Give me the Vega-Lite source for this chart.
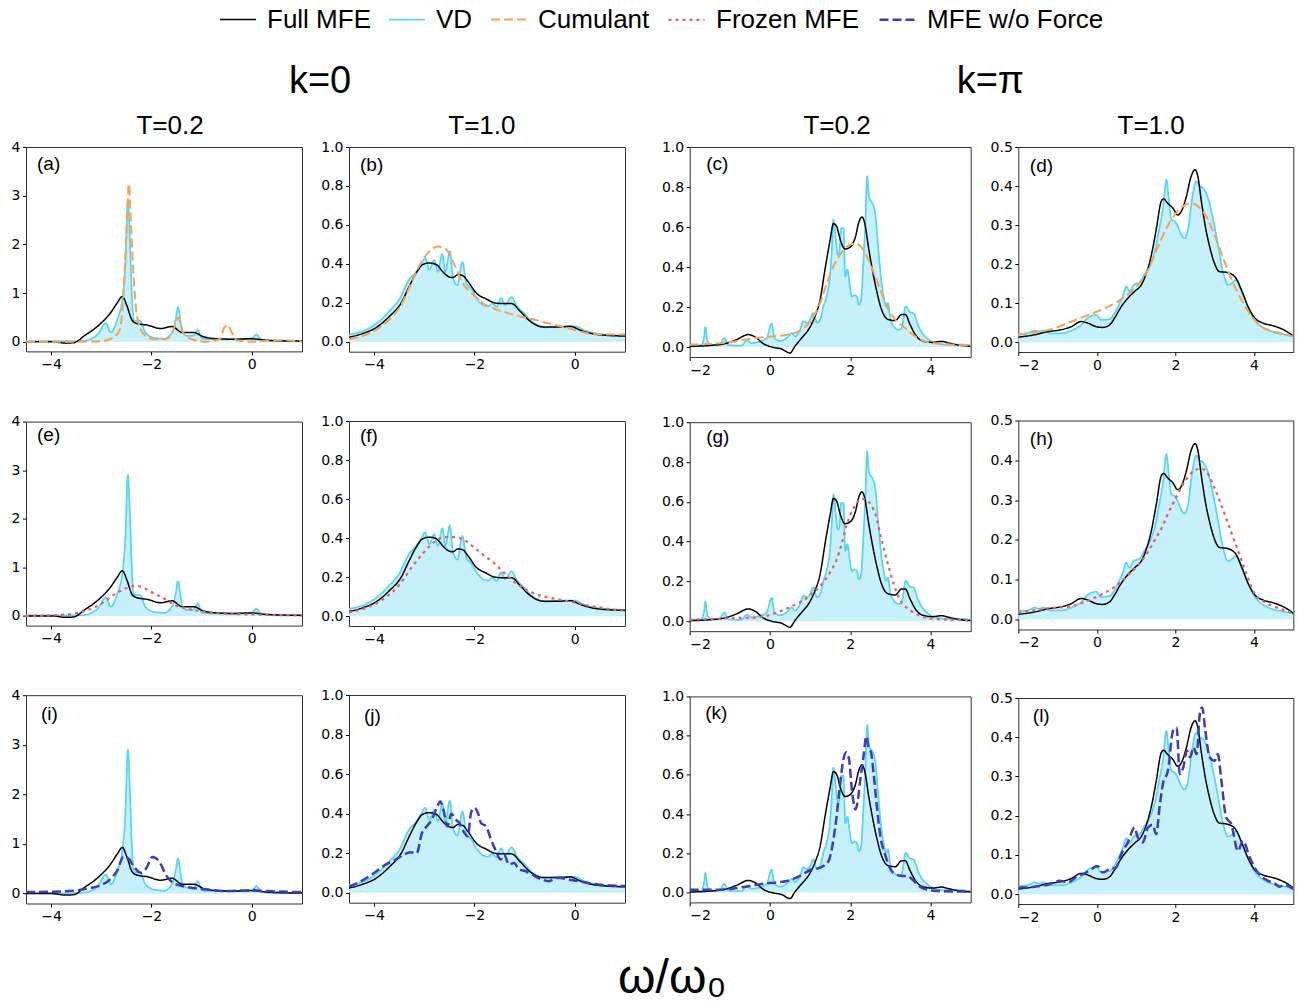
{
"$schema":"https://vega.github.io/schema/vega-lite/v6.json",
"padding":{"left":10,"top":0,"right":2,"bottom":0},
"datasets":{
"c1":[
{"m":"VD","x":-4.5,"y":0.01},{"m":"VD","x":-3.6,"y":0.01},{"m":"VD","x":-3.34,"y":0.02},{"m":"VD","x":-3.07,"y":0.15},{"m":"VD","x":-2.91,"y":0.38},{"m":"VD","x":-2.81,"y":0.19},{"m":"VD","x":-2.68,"y":0.46},{"m":"VD","x":-2.58,"y":0.87},{"m":"VD","x":-2.52,"y":1.6},{"m":"VD","x":-2.47,"y":2.9},{"m":"VD","x":-2.42,"y":1.8},{"m":"VD","x":-2.39,"y":0.94},{"m":"VD","x":-2.35,"y":0.43},{"m":"VD","x":-2.23,"y":0.43},{"m":"VD","x":-2.12,"y":0.19},{"m":"VD","x":-1.95,"y":0.08},{"m":"VD","x":-1.75,"y":0.06},{"m":"VD","x":-1.59,"y":0.19},{"m":"VD","x":-1.52,"y":0.45},{"m":"VD","x":-1.47,"y":0.71},{"m":"VD","x":-1.42,"y":0.4},{"m":"VD","x":-1.38,"y":0.19},{"m":"VD","x":-1.29,"y":0.12},{"m":"VD","x":-1.16,"y":0.12},{"m":"VD","x":-1.08,"y":0.25},{"m":"VD","x":-0.99,"y":0.06},{"m":"VD","x":-0.69,"y":0.05},{"m":"VD","x":-0.36,"y":0.05},{"m":"VD","x":-0.1,"y":0.05},{"m":"VD","x":0.02,"y":0.08},{"m":"VD","x":0.09,"y":0.15},{"m":"VD","x":0.16,"y":0.07},{"m":"VD","x":0.23,"y":0.03},{"m":"VD","x":0.5,"y":0.01},{"m":"VD","x":1.0,"y":0.01},
{"m":"Full MFE","x":-4.5,"y":0.0},{"m":"Full MFE","x":-4.0,"y":0.0},{"m":"Full MFE","x":-3.7,"y":-0.03},{"m":"Full MFE","x":-3.54,"y":-0.02},{"m":"Full MFE","x":-3.34,"y":0.12},{"m":"Full MFE","x":-3.07,"y":0.32},{"m":"Full MFE","x":-2.81,"y":0.6},{"m":"Full MFE","x":-2.68,"y":0.8},{"m":"Full MFE","x":-2.58,"y":0.93},{"m":"Full MFE","x":-2.49,"y":0.74},{"m":"Full MFE","x":-2.38,"y":0.43},{"m":"Full MFE","x":-2.28,"y":0.37},{"m":"Full MFE","x":-2.08,"y":0.34},{"m":"Full MFE","x":-1.82,"y":0.27},{"m":"Full MFE","x":-1.59,"y":0.31},{"m":"Full MFE","x":-1.39,"y":0.19},{"m":"Full MFE","x":-1.16,"y":0.19},{"m":"Full MFE","x":-0.96,"y":0.1},{"m":"Full MFE","x":-0.69,"y":0.06},{"m":"Full MFE","x":-0.36,"y":0.05},{"m":"Full MFE","x":-0.03,"y":0.06},{"m":"Full MFE","x":0.3,"y":0.03},{"m":"Full MFE","x":1.0,"y":0.01},
{"m":"Cumulant","x":-4.5,"y":0},{"m":"Cumulant","x":-3.34,"y":0},{"m":"Cumulant","x":-3.0,"y":0.01},{"m":"Cumulant","x":-2.81,"y":0.06},{"m":"Cumulant","x":-2.64,"y":0.22},{"m":"Cumulant","x":-2.55,"y":1.08},{"m":"Cumulant","x":-2.49,"y":2.45},{"m":"Cumulant","x":-2.45,"y":3.24},{"m":"Cumulant","x":-2.41,"y":2.45},{"m":"Cumulant","x":-2.36,"y":1.42},{"m":"Cumulant","x":-2.29,"y":0.53},{"m":"Cumulant","x":-2.15,"y":0.15},{"m":"Cumulant","x":-1.95,"y":0.05},{"m":"Cumulant","x":-1.69,"y":0.06},{"m":"Cumulant","x":-1.57,"y":0.22},{"m":"Cumulant","x":-1.47,"y":0.49},{"m":"Cumulant","x":-1.37,"y":0.19},{"m":"Cumulant","x":-1.19,"y":0.05},{"m":"Cumulant","x":-0.89,"y":0.0},{"m":"Cumulant","x":-0.63,"y":0.06},{"m":"Cumulant","x":-0.55,"y":0.29},{"m":"Cumulant","x":-0.48,"y":0.34},{"m":"Cumulant","x":-0.4,"y":0.19},{"m":"Cumulant","x":-0.3,"y":0.03},{"m":"Cumulant","x":0,"y":0.0},{"m":"Cumulant","x":0.56,"y":0.03},{"m":"Cumulant","x":1.0,"y":0.0},
{"m":"Frozen MFE","x":-4.5,"y":0.0},{"m":"Frozen MFE","x":-3.67,"y":0.03},{"m":"Frozen MFE","x":-3.27,"y":0.12},{"m":"Frozen MFE","x":-3.0,"y":0.25},{"m":"Frozen MFE","x":-2.74,"y":0.44},{"m":"Frozen MFE","x":-2.48,"y":0.58},{"m":"Frozen MFE","x":-2.31,"y":0.62},{"m":"Frozen MFE","x":-2.12,"y":0.56},{"m":"Frozen MFE","x":-1.95,"y":0.46},{"m":"Frozen MFE","x":-1.75,"y":0.36},{"m":"Frozen MFE","x":-1.55,"y":0.23},{"m":"Frozen MFE","x":-1.29,"y":0.15},{"m":"Frozen MFE","x":-0.89,"y":0.08},{"m":"Frozen MFE","x":-0.36,"y":0.04},{"m":"Frozen MFE","x":0.03,"y":0.03},{"m":"Frozen MFE","x":1.0,"y":0.01},
{"m":"MFE w/o Force","x":-4.5,"y":0.03},{"m":"MFE w/o Force","x":-3.67,"y":0.05},{"m":"MFE w/o Force","x":-3.28,"y":0.1},{"m":"MFE w/o Force","x":-3.0,"y":0.17},{"m":"MFE w/o Force","x":-2.81,"y":0.3},{"m":"MFE w/o Force","x":-2.68,"y":0.47},{"m":"MFE w/o Force","x":-2.56,"y":0.74},{"m":"MFE w/o Force","x":-2.45,"y":0.7},{"m":"MFE w/o Force","x":-2.35,"y":0.54},{"m":"MFE w/o Force","x":-2.21,"y":0.42},{"m":"MFE w/o Force","x":-2.11,"y":0.5},{"m":"MFE w/o Force","x":-1.98,"y":0.74},{"m":"MFE w/o Force","x":-1.84,"y":0.64},{"m":"MFE w/o Force","x":-1.71,"y":0.37},{"m":"MFE w/o Force","x":-1.54,"y":0.2},{"m":"MFE w/o Force","x":-1.28,"y":0.13},{"m":"MFE w/o Force","x":-0.87,"y":0.08},{"m":"MFE w/o Force","x":-0.47,"y":0.05},{"m":"MFE w/o Force","x":0,"y":0.07},{"m":"MFE w/o Force","x":0.33,"y":0.05},{"m":"MFE w/o Force","x":1.0,"y":0.03}
],
"c2":[
{"m":"VD","x":-4.5,"y":0.038},{"m":"VD","x":-4.3,"y":0.05},{"m":"VD","x":-4.1,"y":0.07},{"m":"VD","x":-3.9,"y":0.106},{"m":"VD","x":-3.7,"y":0.157},{"m":"VD","x":-3.5,"y":0.217},{"m":"VD","x":-3.3,"y":0.32},{"m":"VD","x":-3.16,"y":0.36},{"m":"VD","x":-3.06,"y":0.4},{"m":"VD","x":-2.98,"y":0.43},{"m":"VD","x":-2.9,"y":0.37},{"m":"VD","x":-2.8,"y":0.42},{"m":"VD","x":-2.73,"y":0.36},{"m":"VD","x":-2.64,"y":0.45},{"m":"VD","x":-2.58,"y":0.36},{"m":"VD","x":-2.49,"y":0.465},{"m":"VD","x":-2.43,"y":0.33},{"m":"VD","x":-2.34,"y":0.29},{"m":"VD","x":-2.24,"y":0.41},{"m":"VD","x":-2.16,"y":0.3},{"m":"VD","x":-2.06,"y":0.27},{"m":"VD","x":-1.96,"y":0.225},{"m":"VD","x":-1.83,"y":0.19},{"m":"VD","x":-1.73,"y":0.183},{"m":"VD","x":-1.64,"y":0.197},{"m":"VD","x":-1.56,"y":0.18},{"m":"VD","x":-1.47,"y":0.225},{"m":"VD","x":-1.39,"y":0.19},{"m":"VD","x":-1.26,"y":0.23},{"m":"VD","x":-1.16,"y":0.186},{"m":"VD","x":-1.02,"y":0.149},{"m":"VD","x":-0.82,"y":0.097},{"m":"VD","x":-0.56,"y":0.075},{"m":"VD","x":-0.29,"y":0.08},{"m":"VD","x":0.01,"y":0.08},{"m":"VD","x":0.18,"y":0.06},{"m":"VD","x":0.45,"y":0.043},{"m":"VD","x":1.0,"y":0.032},
{"m":"Full MFE","x":-4.5,"y":0.024},{"m":"Full MFE","x":-4.23,"y":0.043},{"m":"Full MFE","x":-3.97,"y":0.072},{"m":"Full MFE","x":-3.7,"y":0.13},{"m":"Full MFE","x":-3.46,"y":0.2},{"m":"Full MFE","x":-3.3,"y":0.285},{"m":"Full MFE","x":-3.16,"y":0.354},{"m":"Full MFE","x":-3.03,"y":0.397},{"m":"Full MFE","x":-2.9,"y":0.405},{"m":"Full MFE","x":-2.76,"y":0.397},{"m":"Full MFE","x":-2.63,"y":0.36},{"m":"Full MFE","x":-2.53,"y":0.337},{"m":"Full MFE","x":-2.43,"y":0.33},{"m":"Full MFE","x":-2.33,"y":0.345},{"m":"Full MFE","x":-2.23,"y":0.34},{"m":"Full MFE","x":-2.13,"y":0.31},{"m":"Full MFE","x":-1.96,"y":0.25},{"m":"Full MFE","x":-1.76,"y":0.22},{"m":"Full MFE","x":-1.59,"y":0.2},{"m":"Full MFE","x":-1.42,"y":0.197},{"m":"Full MFE","x":-1.26,"y":0.197},{"m":"Full MFE","x":-1.09,"y":0.157},{"m":"Full MFE","x":-0.89,"y":0.106},{"m":"Full MFE","x":-0.62,"y":0.077},{"m":"Full MFE","x":-0.29,"y":0.077},{"m":"Full MFE","x":-0.09,"y":0.08},{"m":"Full MFE","x":0.11,"y":0.06},{"m":"Full MFE","x":0.45,"y":0.038},{"m":"Full MFE","x":1.0,"y":0.03},
{"m":"Cumulant","x":-4.5,"y":0.015},{"m":"Cumulant","x":-4.23,"y":0.03},{"m":"Cumulant","x":-3.97,"y":0.06},{"m":"Cumulant","x":-3.7,"y":0.115},{"m":"Cumulant","x":-3.46,"y":0.19},{"m":"Cumulant","x":-3.26,"y":0.3},{"m":"Cumulant","x":-3.1,"y":0.39},{"m":"Cumulant","x":-2.93,"y":0.456},{"m":"Cumulant","x":-2.73,"y":0.49},{"m":"Cumulant","x":-2.56,"y":0.473},{"m":"Cumulant","x":-2.39,"y":0.39},{"m":"Cumulant","x":-2.23,"y":0.3},{"m":"Cumulant","x":-2.03,"y":0.243},{"m":"Cumulant","x":-1.83,"y":0.2},{"m":"Cumulant","x":-1.56,"y":0.166},{"m":"Cumulant","x":-1.22,"y":0.14},{"m":"Cumulant","x":-0.82,"y":0.115},{"m":"Cumulant","x":-0.42,"y":0.089},{"m":"Cumulant","x":-0.02,"y":0.063},{"m":"Cumulant","x":0.31,"y":0.043},{"m":"Cumulant","x":0.72,"y":0.038},{"m":"Cumulant","x":1.0,"y":0.038},
{"m":"Frozen MFE","x":-4.5,"y":0.02},{"m":"Frozen MFE","x":-4.25,"y":0.035},{"m":"Frozen MFE","x":-4.0,"y":0.06},{"m":"Frozen MFE","x":-3.75,"y":0.1},{"m":"Frozen MFE","x":-3.5,"y":0.16},{"m":"Frozen MFE","x":-3.25,"y":0.25},{"m":"Frozen MFE","x":-3.0,"y":0.33},{"m":"Frozen MFE","x":-2.8,"y":0.38},{"m":"Frozen MFE","x":-2.6,"y":0.405},{"m":"Frozen MFE","x":-2.4,"y":0.405},{"m":"Frozen MFE","x":-2.2,"y":0.39},{"m":"Frozen MFE","x":-2.0,"y":0.35},{"m":"Frozen MFE","x":-1.8,"y":0.31},{"m":"Frozen MFE","x":-1.6,"y":0.27},{"m":"Frozen MFE","x":-1.4,"y":0.22},{"m":"Frozen MFE","x":-1.2,"y":0.175},{"m":"Frozen MFE","x":-1.0,"y":0.14},{"m":"Frozen MFE","x":-0.8,"y":0.115},{"m":"Frozen MFE","x":-0.6,"y":0.1},{"m":"Frozen MFE","x":-0.4,"y":0.09},{"m":"Frozen MFE","x":-0.2,"y":0.08},{"m":"Frozen MFE","x":0,"y":0.07},{"m":"Frozen MFE","x":0.25,"y":0.055},{"m":"Frozen MFE","x":0.5,"y":0.045},{"m":"Frozen MFE","x":0.75,"y":0.035},{"m":"Frozen MFE","x":1.0,"y":0.03},
{"m":"MFE w/o Force","x":-4.5,"y":0.03},{"m":"MFE w/o Force","x":-4.26,"y":0.059},{"m":"MFE w/o Force","x":-4.0,"y":0.1},{"m":"MFE w/o Force","x":-3.77,"y":0.143},{"m":"MFE w/o Force","x":-3.57,"y":0.168},{"m":"MFE w/o Force","x":-3.41,"y":0.193},{"m":"MFE w/o Force","x":-3.28,"y":0.205},{"m":"MFE w/o Force","x":-3.15,"y":0.2},{"m":"MFE w/o Force","x":-3.05,"y":0.3},{"m":"MFE w/o Force","x":-2.95,"y":0.336},{"m":"MFE w/o Force","x":-2.85,"y":0.37},{"m":"MFE w/o Force","x":-2.75,"y":0.43},{"m":"MFE w/o Force","x":-2.68,"y":0.462},{"m":"MFE w/o Force","x":-2.61,"y":0.41},{"m":"MFE w/o Force","x":-2.54,"y":0.336},{"m":"MFE w/o Force","x":-2.46,"y":0.4},{"m":"MFE w/o Force","x":-2.37,"y":0.37},{"m":"MFE w/o Force","x":-2.3,"y":0.353},{"m":"MFE w/o Force","x":-2.22,"y":0.311},{"m":"MFE w/o Force","x":-2.13,"y":0.286},{"m":"MFE w/o Force","x":-2.07,"y":0.403},{"m":"MFE w/o Force","x":-2.0,"y":0.43},{"m":"MFE w/o Force","x":-1.93,"y":0.403},{"m":"MFE w/o Force","x":-1.87,"y":0.353},{"m":"MFE w/o Force","x":-1.77,"y":0.336},{"m":"MFE w/o Force","x":-1.67,"y":0.27},{"m":"MFE w/o Force","x":-1.57,"y":0.21},{"m":"MFE w/o Force","x":-1.48,"y":0.168},{"m":"MFE w/o Force","x":-1.41,"y":0.193},{"m":"MFE w/o Force","x":-1.31,"y":0.143},{"m":"MFE w/o Force","x":-1.21,"y":0.151},{"m":"MFE w/o Force","x":-1.11,"y":0.118},{"m":"MFE w/o Force","x":-0.98,"y":0.109},{"m":"MFE w/o Force","x":-0.85,"y":0.092},{"m":"MFE w/o Force","x":-0.69,"y":0.071},{"m":"MFE w/o Force","x":-0.52,"y":0.059},{"m":"MFE w/o Force","x":-0.33,"y":0.076},{"m":"MFE w/o Force","x":-0.13,"y":0.067},{"m":"MFE w/o Force","x":0.07,"y":0.059},{"m":"MFE w/o Force","x":0.26,"y":0.05},{"m":"MFE w/o Force","x":0.46,"y":0.042},{"m":"MFE w/o Force","x":0.72,"y":0.037},{"m":"MFE w/o Force","x":1.0,"y":0.034}
],
"c3":[
{"m":"VD","x":-2.0,"y":0.007},{"m":"VD","x":-1.71,"y":0.01},{"m":"VD","x":-1.64,"y":0.053},{"m":"VD","x":-1.61,"y":0.1},{"m":"VD","x":-1.56,"y":0.03},{"m":"VD","x":-1.46,"y":0.01},{"m":"VD","x":-1.25,"y":0.012},{"m":"VD","x":-1.14,"y":0.045},{"m":"VD","x":-1.04,"y":0.01},{"m":"VD","x":-0.71,"y":0.007},{"m":"VD","x":-0.58,"y":0.033},{"m":"VD","x":-0.46,"y":0.02},{"m":"VD","x":-0.21,"y":0.03},{"m":"VD","x":-0.08,"y":0.045},{"m":"VD","x":0.04,"y":0.117},{"m":"VD","x":0.11,"y":0.045},{"m":"VD","x":0.25,"y":0.03},{"m":"VD","x":0.46,"y":0.053},{"m":"VD","x":0.54,"y":0.07},{"m":"VD","x":0.62,"y":0.053},{"m":"VD","x":0.75,"y":0.087},{"m":"VD","x":0.83,"y":0.128},{"m":"VD","x":0.92,"y":0.12},{"m":"VD","x":1.0,"y":0.137},{"m":"VD","x":1.08,"y":0.17},{"m":"VD","x":1.17,"y":0.12},{"m":"VD","x":1.25,"y":0.137},{"m":"VD","x":1.33,"y":0.203},{"m":"VD","x":1.41,"y":0.253},{"m":"VD","x":1.5,"y":0.37},{"m":"VD","x":1.54,"y":0.487},{"m":"VD","x":1.58,"y":0.637},{"m":"VD","x":1.64,"y":0.537},{"m":"VD","x":1.69,"y":0.46},{"m":"VD","x":1.725,"y":0.47},{"m":"VD","x":1.775,"y":0.595},{"m":"VD","x":1.83,"y":0.595},{"m":"VD","x":1.875,"y":0.353},{"m":"VD","x":1.93,"y":0.387},{"m":"VD","x":1.98,"y":0.32},{"m":"VD","x":2.04,"y":0.253},{"m":"VD","x":2.11,"y":0.26},{"m":"VD","x":2.17,"y":0.25},{"m":"VD","x":2.21,"y":0.21},{"m":"VD","x":2.27,"y":0.237},{"m":"VD","x":2.32,"y":0.4},{"m":"VD","x":2.375,"y":0.62},{"m":"VD","x":2.42,"y":0.853},{"m":"VD","x":2.47,"y":0.745},{"m":"VD","x":2.55,"y":0.72},{"m":"VD","x":2.62,"y":0.67},{"m":"VD","x":2.7,"y":0.487},{"m":"VD","x":2.77,"y":0.337},{"m":"VD","x":2.83,"y":0.253},{"m":"VD","x":2.89,"y":0.203},{"m":"VD","x":2.94,"y":0.22},{"m":"VD","x":2.99,"y":0.153},{"m":"VD","x":3.08,"y":0.103},{"m":"VD","x":3.2,"y":0.087},{"m":"VD","x":3.28,"y":0.095},{"m":"VD","x":3.38,"y":0.203},{"m":"VD","x":3.49,"y":0.173},{"m":"VD","x":3.57,"y":0.17},{"m":"VD","x":3.7,"y":0.103},{"m":"VD","x":3.82,"y":0.062},{"m":"VD","x":3.95,"y":0.037},{"m":"VD","x":4.11,"y":0.02},{"m":"VD","x":4.45,"y":0.012},{"m":"VD","x":4.78,"y":0.012},{"m":"VD","x":5.0,"y":0.007},
{"m":"Full MFE","x":-2.0,"y":0.003},{"m":"Full MFE","x":-1.54,"y":0.007},{"m":"Full MFE","x":-1.12,"y":0.017},{"m":"Full MFE","x":-0.83,"y":0.037},{"m":"Full MFE","x":-0.54,"y":0.062},{"m":"Full MFE","x":-0.37,"y":0.05},{"m":"Full MFE","x":-0.17,"y":0.017},{"m":"Full MFE","x":0.04,"y":0.0},{"m":"Full MFE","x":0.29,"y":-0.01},{"m":"Full MFE","x":0.5,"y":-0.03},{"m":"Full MFE","x":0.62,"y":0.003},{"m":"Full MFE","x":0.79,"y":0.045},{"m":"Full MFE","x":0.96,"y":0.087},{"m":"Full MFE","x":1.12,"y":0.153},{"m":"Full MFE","x":1.25,"y":0.237},{"m":"Full MFE","x":1.37,"y":0.387},{"m":"Full MFE","x":1.5,"y":0.537},{"m":"Full MFE","x":1.58,"y":0.617},{"m":"Full MFE","x":1.66,"y":0.603},{"m":"Full MFE","x":1.75,"y":0.537},{"m":"Full MFE","x":1.87,"y":0.49},{"m":"Full MFE","x":2.0,"y":0.5},{"m":"Full MFE","x":2.12,"y":0.545},{"m":"Full MFE","x":2.22,"y":0.628},{"m":"Full MFE","x":2.29,"y":0.65},{"m":"Full MFE","x":2.37,"y":0.61},{"m":"Full MFE","x":2.45,"y":0.503},{"m":"Full MFE","x":2.55,"y":0.387},{"m":"Full MFE","x":2.66,"y":0.278},{"m":"Full MFE","x":2.78,"y":0.187},{"m":"Full MFE","x":2.95,"y":0.137},{"m":"Full MFE","x":3.12,"y":0.132},{"m":"Full MFE","x":3.28,"y":0.162},{"m":"Full MFE","x":3.37,"y":0.162},{"m":"Full MFE","x":3.49,"y":0.112},{"m":"Full MFE","x":3.62,"y":0.062},{"m":"Full MFE","x":3.78,"y":0.032},{"m":"Full MFE","x":4.03,"y":0.023},{"m":"Full MFE","x":4.28,"y":0.028},{"m":"Full MFE","x":4.45,"y":0.02},{"m":"Full MFE","x":4.78,"y":0.007},{"m":"Full MFE","x":5.0,"y":0.003},
{"m":"Cumulant","x":-2.0,"y":0.012},{"m":"Cumulant","x":-1.37,"y":0.017},{"m":"Cumulant","x":-0.87,"y":0.028},{"m":"Cumulant","x":-0.37,"y":0.045},{"m":"Cumulant","x":0.04,"y":0.053},{"m":"Cumulant","x":0.46,"y":0.062},{"m":"Cumulant","x":0.79,"y":0.087},{"m":"Cumulant","x":1.04,"y":0.137},{"m":"Cumulant","x":1.25,"y":0.22},{"m":"Cumulant","x":1.45,"y":0.337},{"m":"Cumulant","x":1.62,"y":0.42},{"m":"Cumulant","x":1.79,"y":0.473},{"m":"Cumulant","x":1.95,"y":0.507},{"m":"Cumulant","x":2.12,"y":0.517},{"m":"Cumulant","x":2.29,"y":0.495},{"m":"Cumulant","x":2.45,"y":0.437},{"m":"Cumulant","x":2.62,"y":0.353},{"m":"Cumulant","x":2.78,"y":0.27},{"m":"Cumulant","x":2.95,"y":0.187},{"m":"Cumulant","x":3.12,"y":0.137},{"m":"Cumulant","x":3.37,"y":0.095},{"m":"Cumulant","x":3.62,"y":0.053},{"m":"Cumulant","x":3.87,"y":0.028},{"m":"Cumulant","x":4.2,"y":0.017},{"m":"Cumulant","x":5.0,"y":0.007},
{"m":"Frozen MFE","x":-2.0,"y":0.008},{"m":"Frozen MFE","x":-1.37,"y":0.012},{"m":"Frozen MFE","x":-0.87,"y":0.017},{"m":"Frozen MFE","x":-0.46,"y":0.017},{"m":"Frozen MFE","x":-0.13,"y":0.025},{"m":"Frozen MFE","x":0.11,"y":0.039},{"m":"Frozen MFE","x":0.32,"y":0.055},{"m":"Frozen MFE","x":0.53,"y":0.075},{"m":"Frozen MFE","x":0.74,"y":0.095},{"m":"Frozen MFE","x":0.95,"y":0.122},{"m":"Frozen MFE","x":1.16,"y":0.159},{"m":"Frozen MFE","x":1.32,"y":0.193},{"m":"Frozen MFE","x":1.49,"y":0.243},{"m":"Frozen MFE","x":1.66,"y":0.31},{"m":"Frozen MFE","x":1.78,"y":0.385},{"m":"Frozen MFE","x":1.9,"y":0.477},{"m":"Frozen MFE","x":2.02,"y":0.544},{"m":"Frozen MFE","x":2.15,"y":0.591},{"m":"Frozen MFE","x":2.27,"y":0.615},{"m":"Frozen MFE","x":2.39,"y":0.611},{"m":"Frozen MFE","x":2.51,"y":0.586},{"m":"Frozen MFE","x":2.64,"y":0.528},{"m":"Frozen MFE","x":2.76,"y":0.427},{"m":"Frozen MFE","x":2.93,"y":0.293},{"m":"Frozen MFE","x":3.1,"y":0.176},{"m":"Frozen MFE","x":3.26,"y":0.1},{"m":"Frozen MFE","x":3.47,"y":0.059},{"m":"Frozen MFE","x":3.76,"y":0.025},{"m":"Frozen MFE","x":4.09,"y":0.012},{"m":"Frozen MFE","x":4.83,"y":0.005},{"m":"Frozen MFE","x":5.0,"y":0.004},
{"m":"MFE w/o Force","x":-2.0,"y":0.014},{"m":"MFE w/o Force","x":-1.42,"y":0.014},{"m":"MFE w/o Force","x":-0.92,"y":0.02},{"m":"MFE w/o Force","x":-0.5,"y":0.034},{"m":"MFE w/o Force","x":-0.08,"y":0.047},{"m":"MFE w/o Force","x":0.42,"y":0.059},{"m":"MFE w/o Force","x":0.75,"y":0.085},{"m":"MFE w/o Force","x":1.0,"y":0.115},{"m":"MFE w/o Force","x":1.25,"y":0.127},{"m":"MFE w/o Force","x":1.46,"y":0.161},{"m":"MFE w/o Force","x":1.58,"y":0.27},{"m":"MFE w/o Force","x":1.67,"y":0.407},{"m":"MFE w/o Force","x":1.75,"y":0.56},{"m":"MFE w/o Force","x":1.83,"y":0.68},{"m":"MFE w/o Force","x":1.9,"y":0.715},{"m":"MFE w/o Force","x":1.97,"y":0.68},{"m":"MFE w/o Force","x":2.04,"y":0.525},{"m":"MFE w/o Force","x":2.13,"y":0.424},{"m":"MFE w/o Force","x":2.18,"y":0.458},{"m":"MFE w/o Force","x":2.25,"y":0.576},{"m":"MFE w/o Force","x":2.33,"y":0.695},{"m":"MFE w/o Force","x":2.4,"y":0.797},{"m":"MFE w/o Force","x":2.46,"y":0.737},{"m":"MFE w/o Force","x":2.52,"y":0.712},{"m":"MFE w/o Force","x":2.58,"y":0.61},{"m":"MFE w/o Force","x":2.67,"y":0.424},{"m":"MFE w/o Force","x":2.75,"y":0.288},{"m":"MFE w/o Force","x":2.88,"y":0.186},{"m":"MFE w/o Force","x":3.0,"y":0.119},{"m":"MFE w/o Force","x":3.13,"y":0.093},{"m":"MFE w/o Force","x":3.29,"y":0.085},{"m":"MFE w/o Force","x":3.42,"y":0.085},{"m":"MFE w/o Force","x":3.54,"y":0.068},{"m":"MFE w/o Force","x":3.71,"y":0.034},{"m":"MFE w/o Force","x":3.92,"y":0.014},{"m":"MFE w/o Force","x":4.17,"y":0.008},{"m":"MFE w/o Force","x":5.0,"y":0.005}
],
"c4":[
{"m":"VD","x":-2.0,"y":0.021},{"m":"VD","x":-1.76,"y":0.023},{"m":"VD","x":-1.59,"y":0.03},{"m":"VD","x":-1.46,"y":0.027},{"m":"VD","x":-1.38,"y":0.03},{"m":"VD","x":-1.17,"y":0.023},{"m":"VD","x":-0.91,"y":0.023},{"m":"VD","x":-0.65,"y":0.03},{"m":"VD","x":-0.4,"y":0.044},{"m":"VD","x":-0.23,"y":0.062},{"m":"VD","x":-0.02,"y":0.07},{"m":"VD","x":0.11,"y":0.057},{"m":"VD","x":0.32,"y":0.059},{"m":"VD","x":0.45,"y":0.074},{"m":"VD","x":0.58,"y":0.1},{"m":"VD","x":0.66,"y":0.117},{"m":"VD","x":0.75,"y":0.143},{"m":"VD","x":0.83,"y":0.13},{"m":"VD","x":0.94,"y":0.147},{"m":"VD","x":1.09,"y":0.153},{"m":"VD","x":1.21,"y":0.173},{"m":"VD","x":1.34,"y":0.194},{"m":"VD","x":1.47,"y":0.232},{"m":"VD","x":1.6,"y":0.297},{"m":"VD","x":1.68,"y":0.34},{"m":"VD","x":1.77,"y":0.416},{"m":"VD","x":1.83,"y":0.365},{"m":"VD","x":1.9,"y":0.314},{"m":"VD","x":1.98,"y":0.31},{"m":"VD","x":2.06,"y":0.297},{"m":"VD","x":2.15,"y":0.275},{"m":"VD","x":2.23,"y":0.267},{"m":"VD","x":2.32,"y":0.288},{"m":"VD","x":2.42,"y":0.365},{"m":"VD","x":2.53,"y":0.412},{"m":"VD","x":2.62,"y":0.4},{"m":"VD","x":2.7,"y":0.395},{"m":"VD","x":2.83,"y":0.369},{"m":"VD","x":2.96,"y":0.314},{"m":"VD","x":3.09,"y":0.245},{"m":"VD","x":3.21,"y":0.181},{"m":"VD","x":3.34,"y":0.147},{"m":"VD","x":3.43,"y":0.151},{"m":"VD","x":3.55,"y":0.16},{"m":"VD","x":3.68,"y":0.13},{"m":"VD","x":3.85,"y":0.091},{"m":"VD","x":4.02,"y":0.057},{"m":"VD","x":4.19,"y":0.04},{"m":"VD","x":4.45,"y":0.027},{"m":"VD","x":4.7,"y":0.021},{"m":"VD","x":5.0,"y":0.015},
{"m":"Full MFE","x":-2.0,"y":0.013},{"m":"Full MFE","x":-1.59,"y":0.019},{"m":"Full MFE","x":-1.25,"y":0.027},{"m":"Full MFE","x":-0.91,"y":0.032},{"m":"Full MFE","x":-0.65,"y":0.04},{"m":"Full MFE","x":-0.4,"y":0.053},{"m":"Full MFE","x":-0.23,"y":0.049},{"m":"Full MFE","x":-0.02,"y":0.04},{"m":"Full MFE","x":0.15,"y":0.038},{"m":"Full MFE","x":0.32,"y":0.044},{"m":"Full MFE","x":0.45,"y":0.062},{"m":"Full MFE","x":0.62,"y":0.091},{"m":"Full MFE","x":0.79,"y":0.113},{"m":"Full MFE","x":0.96,"y":0.13},{"m":"Full MFE","x":1.13,"y":0.147},{"m":"Full MFE","x":1.26,"y":0.177},{"m":"Full MFE","x":1.38,"y":0.22},{"m":"Full MFE","x":1.51,"y":0.288},{"m":"Full MFE","x":1.64,"y":0.361},{"m":"Full MFE","x":1.7,"y":0.367},{"m":"Full MFE","x":1.8,"y":0.356},{"m":"Full MFE","x":1.93,"y":0.344},{"m":"Full MFE","x":2.06,"y":0.326},{"m":"Full MFE","x":2.15,"y":0.335},{"m":"Full MFE","x":2.28,"y":0.374},{"m":"Full MFE","x":2.4,"y":0.425},{"m":"Full MFE","x":2.5,"y":0.442},{"m":"Full MFE","x":2.57,"y":0.425},{"m":"Full MFE","x":2.66,"y":0.361},{"m":"Full MFE","x":2.76,"y":0.297},{"m":"Full MFE","x":2.87,"y":0.245},{"m":"Full MFE","x":2.99,"y":0.203},{"m":"Full MFE","x":3.12,"y":0.181},{"m":"Full MFE","x":3.3,"y":0.179},{"m":"Full MFE","x":3.51,"y":0.168},{"m":"Full MFE","x":3.68,"y":0.134},{"m":"Full MFE","x":3.85,"y":0.091},{"m":"Full MFE","x":4.02,"y":0.062},{"m":"Full MFE","x":4.23,"y":0.049},{"m":"Full MFE","x":4.49,"y":0.042},{"m":"Full MFE","x":4.79,"y":0.03},{"m":"Full MFE","x":5.0,"y":0.016},
{"m":"Cumulant","x":-2.0,"y":0.019},{"m":"Cumulant","x":-1.59,"y":0.025},{"m":"Cumulant","x":-1.17,"y":0.033},{"m":"Cumulant","x":-0.74,"y":0.049},{"m":"Cumulant","x":-0.31,"y":0.066},{"m":"Cumulant","x":0.11,"y":0.083},{"m":"Cumulant","x":0.53,"y":0.104},{"m":"Cumulant","x":0.96,"y":0.138},{"m":"Cumulant","x":1.3,"y":0.185},{"m":"Cumulant","x":1.56,"y":0.245},{"m":"Cumulant","x":1.77,"y":0.292},{"m":"Cumulant","x":1.98,"y":0.326},{"m":"Cumulant","x":2.19,"y":0.348},{"m":"Cumulant","x":2.4,"y":0.356},{"m":"Cumulant","x":2.62,"y":0.344},{"m":"Cumulant","x":2.83,"y":0.314},{"m":"Cumulant","x":3.04,"y":0.262},{"m":"Cumulant","x":3.26,"y":0.203},{"m":"Cumulant","x":3.47,"y":0.151},{"m":"Cumulant","x":3.68,"y":0.109},{"m":"Cumulant","x":3.94,"y":0.066},{"m":"Cumulant","x":4.19,"y":0.04},{"m":"Cumulant","x":4.53,"y":0.027},{"m":"Cumulant","x":5.0,"y":0.015},
{"m":"Frozen MFE","x":-2.0,"y":0.019},{"m":"Frozen MFE","x":-1.59,"y":0.023},{"m":"Frozen MFE","x":-1.17,"y":0.029},{"m":"Frozen MFE","x":-0.74,"y":0.032},{"m":"Frozen MFE","x":-0.31,"y":0.044},{"m":"Frozen MFE","x":0.07,"y":0.061},{"m":"Frozen MFE","x":0.45,"y":0.082},{"m":"Frozen MFE","x":0.79,"y":0.111},{"m":"Frozen MFE","x":1.04,"y":0.136},{"m":"Frozen MFE","x":1.3,"y":0.17},{"m":"Frozen MFE","x":1.47,"y":0.199},{"m":"Frozen MFE","x":1.64,"y":0.228},{"m":"Frozen MFE","x":1.81,"y":0.266},{"m":"Frozen MFE","x":1.98,"y":0.299},{"m":"Frozen MFE","x":2.15,"y":0.333},{"m":"Frozen MFE","x":2.32,"y":0.358},{"m":"Frozen MFE","x":2.49,"y":0.375},{"m":"Frozen MFE","x":2.66,"y":0.379},{"m":"Frozen MFE","x":2.83,"y":0.366},{"m":"Frozen MFE","x":3.0,"y":0.329},{"m":"Frozen MFE","x":3.17,"y":0.287},{"m":"Frozen MFE","x":3.34,"y":0.241},{"m":"Frozen MFE","x":3.51,"y":0.195},{"m":"Frozen MFE","x":3.68,"y":0.149},{"m":"Frozen MFE","x":3.85,"y":0.103},{"m":"Frozen MFE","x":4.02,"y":0.065},{"m":"Frozen MFE","x":4.27,"y":0.044},{"m":"Frozen MFE","x":4.53,"y":0.032},{"m":"Frozen MFE","x":4.78,"y":0.023},{"m":"Frozen MFE","x":5.0,"y":0.015},
{"m":"MFE w/o Force","x":-2.0,"y":0.017},{"m":"MFE w/o Force","x":-1.59,"y":0.019},{"m":"MFE w/o Force","x":-1.25,"y":0.024},{"m":"MFE w/o Force","x":-0.95,"y":0.034},{"m":"MFE w/o Force","x":-0.74,"y":0.03},{"m":"MFE w/o Force","x":-0.48,"y":0.047},{"m":"MFE w/o Force","x":-0.31,"y":0.053},{"m":"MFE w/o Force","x":-0.14,"y":0.064},{"m":"MFE w/o Force","x":0.01,"y":0.072},{"m":"MFE w/o Force","x":0.15,"y":0.055},{"m":"MFE w/o Force","x":0.32,"y":0.064},{"m":"MFE w/o Force","x":0.49,"y":0.068},{"m":"MFE w/o Force","x":0.62,"y":0.102},{"m":"MFE w/o Force","x":0.79,"y":0.132},{"m":"MFE w/o Force","x":0.96,"y":0.17},{"m":"MFE w/o Force","x":1.04,"y":0.145},{"m":"MFE w/o Force","x":1.17,"y":0.132},{"m":"MFE w/o Force","x":1.3,"y":0.17},{"m":"MFE w/o Force","x":1.42,"y":0.177},{"m":"MFE w/o Force","x":1.51,"y":0.153},{"m":"MFE w/o Force","x":1.6,"y":0.225},{"m":"MFE w/o Force","x":1.68,"y":0.281},{"m":"MFE w/o Force","x":1.81,"y":0.315},{"m":"MFE w/o Force","x":1.94,"y":0.417},{"m":"MFE w/o Force","x":2.03,"y":0.425},{"m":"MFE w/o Force","x":2.11,"y":0.306},{"m":"MFE w/o Force","x":2.2,"y":0.323},{"m":"MFE w/o Force","x":2.29,"y":0.366},{"m":"MFE w/o Force","x":2.37,"y":0.349},{"m":"MFE w/o Force","x":2.46,"y":0.374},{"m":"MFE w/o Force","x":2.54,"y":0.357},{"m":"MFE w/o Force","x":2.62,"y":0.459},{"m":"MFE w/o Force","x":2.68,"y":0.476},{"m":"MFE w/o Force","x":2.76,"y":0.417},{"m":"MFE w/o Force","x":2.87,"y":0.349},{"m":"MFE w/o Force","x":3.0,"y":0.34},{"m":"MFE w/o Force","x":3.08,"y":0.357},{"m":"MFE w/o Force","x":3.17,"y":0.289},{"m":"MFE w/o Force","x":3.29,"y":0.196},{"m":"MFE w/o Force","x":3.42,"y":0.179},{"m":"MFE w/o Force","x":3.59,"y":0.11},{"m":"MFE w/o Force","x":3.72,"y":0.136},{"m":"MFE w/o Force","x":3.89,"y":0.094},{"m":"MFE w/o Force","x":4.1,"y":0.055},{"m":"MFE w/o Force","x":4.36,"y":0.034},{"m":"MFE w/o Force","x":4.53,"y":0.027},{"m":"MFE w/o Force","x":4.65,"y":0.019},{"m":"MFE w/o Force","x":4.78,"y":0.024},{"m":"MFE w/o Force","x":5.0,"y":0.013}
]
},
"title":{"text":"ω/ω₀","orient":"bottom","fontSize":48,"offset":30,"anchor":"middle","dx":20},
"spacing":34.7,
"hconcat":[
{"title":{"text":"k=0","fontSize":38,"offset":12,"anchor":"middle","dx":2},"spacing":17,"hconcat":[
{"title":{"text":"T=0.2","fontSize":26,"offset":1,"anchor":"middle","dx":13.5},"spacing":69.6,"bounds":"flush","vconcat":[
{"title":{"text":"(a)","anchor":"start","frame":"group","fontSize":19,"offset":-25,"dx":11,"dy":18,"baseline":"middle"},"width":276,"height":204.4,"data":{"name":"c1"},
"encoding":{"x":{"field":"x","type":"quantitative","scale":{"domain":[-4.5,1],"nice":false,"zero":false},"axis":{"values":[-4,-2,0],"format":"d","title":null}},"y":{"field":"y","type":"quantitative","scale":{"domain":[-0.2,4],"nice":false,"zero":false},"axis":{"values":[0,1,2,3,4],"format":"d","title":null}}},
"layer":[
{"transform":[{"filter":"datum.m==='VD'"}],"mark":{"type":"area","color":"#c6f1fa","clip":true,"interpolate":"monotone"},"encoding":{"y2":{"datum":0}}},
{"transform":[{"filter":"datum.m!=='Frozen MFE'&&datum.m!=='MFE w/o Force'"}],"mark":{"type":"line","clip":true,"interpolate":"monotone"},"encoding":{"color":{"field":"m","type":"nominal","scale":{"domain":["Full MFE","VD","Cumulant","Frozen MFE","MFE w/o Force"],"range":["#000000","#55d6f8","#ffa04a","#f25c5c","#3b3bc6"]},"legend":{"title":null,"orient":"none","legendX":193,"legendY":-147,"direction":"horizontal"}},"strokeDash":{"field":"m","type":"nominal","scale":{"domain":["Full MFE","VD","Cumulant","Frozen MFE","MFE w/o Force"],"range":[[1,0],[1,0],[9,4],[3,4],[9,4]]},"legend":{"title":null,"orient":"none","legendX":193,"legendY":-147,"direction":"horizontal"}},"strokeWidth":{"field":"m","type":"ordinal","scale":{"domain":["Full MFE","VD","Cumulant","Frozen MFE","MFE w/o Force"],"range":[1.5,2.5,3.2,3,3.2]},"legend":null}}}
]},
{"title":{"text":"(e)","anchor":"start","frame":"group","fontSize":19,"offset":-25,"dx":11,"dy":14.5,"baseline":"middle"},"width":276,"height":204,"data":{"name":"c1"},
"encoding":{"x":{"field":"x","type":"quantitative","scale":{"domain":[-4.5,1],"nice":false,"zero":false},"axis":{"values":[-4,-2,0],"format":"d","title":null}},"y":{"field":"y","type":"quantitative","scale":{"domain":[-0.2,4],"nice":false,"zero":false},"axis":{"values":[0,1,2,3,4],"format":"d","title":null}}},
"layer":[
{"transform":[{"filter":"datum.m==='VD'"}],"mark":{"type":"area","color":"#c6f1fa","clip":true,"interpolate":"monotone"},"encoding":{"y2":{"datum":0}}},
{"transform":[{"filter":"datum.m!=='Cumulant'&&datum.m!=='MFE w/o Force'"}],"mark":{"type":"line","clip":true,"interpolate":"monotone"},"encoding":{"color":{"field":"m","type":"nominal","scale":{"domain":["Full MFE","VD","Cumulant","Frozen MFE","MFE w/o Force"],"range":["#000000","#55d6f8","#ffa04a","#f25c5c","#3b3bc6"]},"legend":{"title":null,"orient":"none","legendX":193,"legendY":-147,"direction":"horizontal"}},"strokeDash":{"field":"m","type":"nominal","scale":{"domain":["Full MFE","VD","Cumulant","Frozen MFE","MFE w/o Force"],"range":[[1,0],[1,0],[9,4],[3,4],[9,4]]},"legend":{"title":null,"orient":"none","legendX":193,"legendY":-147,"direction":"horizontal"}},"strokeWidth":{"field":"m","type":"ordinal","scale":{"domain":["Full MFE","VD","Cumulant","Frozen MFE","MFE w/o Force"],"range":[1.5,2.5,3.2,3,3.2]},"legend":null}}}
]},
{"title":{"text":"(i)","anchor":"start","frame":"group","fontSize":19,"offset":-25,"dx":15,"dy":20,"baseline":"middle"},"width":276,"height":208.3,"data":{"name":"c1"},
"encoding":{"x":{"field":"x","type":"quantitative","scale":{"domain":[-4.5,1],"nice":false,"zero":false},"axis":{"values":[-4,-2,0],"format":"d","title":null}},"y":{"field":"y","type":"quantitative","scale":{"domain":[-0.2,4],"nice":false,"zero":false},"axis":{"values":[0,1,2,3,4],"format":"d","title":null}}},
"layer":[
{"transform":[{"filter":"datum.m==='VD'"}],"mark":{"type":"area","color":"#c6f1fa","clip":true,"interpolate":"monotone"},"encoding":{"y2":{"datum":0}}},
{"transform":[{"filter":"datum.m!=='Cumulant'&&datum.m!=='Frozen MFE'"}],"mark":{"type":"line","clip":true,"interpolate":"monotone"},"encoding":{"color":{"field":"m","type":"nominal","scale":{"domain":["Full MFE","VD","Cumulant","Frozen MFE","MFE w/o Force"],"range":["#000000","#55d6f8","#ffa04a","#f25c5c","#3b3bc6"]},"legend":{"title":null,"orient":"none","legendX":193,"legendY":-147,"direction":"horizontal"}},"strokeDash":{"field":"m","type":"nominal","scale":{"domain":["Full MFE","VD","Cumulant","Frozen MFE","MFE w/o Force"],"range":[[1,0],[1,0],[9,4],[3,4],[9,4]]},"legend":{"title":null,"orient":"none","legendX":193,"legendY":-147,"direction":"horizontal"}},"strokeWidth":{"field":"m","type":"ordinal","scale":{"domain":["Full MFE","VD","Cumulant","Frozen MFE","MFE w/o Force"],"range":[1.5,2.5,3.2,3,3.2]},"legend":null}}}
]}
]},
{"title":{"text":"T=1.0","fontSize":26,"offset":1,"anchor":"middle","dx":9},"spacing":69,"bounds":"flush","vconcat":[
{"title":{"text":"(b)","anchor":"start","frame":"group","fontSize":19,"offset":-25,"dx":11,"dy":19,"baseline":"middle"},"width":276,"height":204.7,"data":{"name":"c2"},
"encoding":{"x":{"field":"x","type":"quantitative","scale":{"domain":[-4.5,1],"nice":false,"zero":false},"axis":{"values":[-4,-2,0],"format":"d","title":null}},"y":{"field":"y","type":"quantitative","scale":{"domain":[-0.05,1],"nice":false,"zero":false},"axis":{"values":[0,0.2,0.4,0.6,0.8,1.0],"format":".1f","title":null}}},
"layer":[
{"transform":[{"filter":"datum.m==='VD'"}],"mark":{"type":"area","color":"#c6f1fa","clip":true,"interpolate":"monotone"},"encoding":{"y2":{"datum":0}}},
{"transform":[{"filter":"datum.m!=='Frozen MFE'&&datum.m!=='MFE w/o Force'"}],"mark":{"type":"line","clip":true,"interpolate":"monotone"},"encoding":{"color":{"field":"m","type":"nominal","scale":{"domain":["Full MFE","VD","Cumulant","Frozen MFE","MFE w/o Force"],"range":["#000000","#55d6f8","#ffa04a","#f25c5c","#3b3bc6"]},"legend":{"title":null,"orient":"none","legendX":193,"legendY":-147,"direction":"horizontal"}},"strokeDash":{"field":"m","type":"nominal","scale":{"domain":["Full MFE","VD","Cumulant","Frozen MFE","MFE w/o Force"],"range":[[1,0],[1,0],[9,4],[3,4],[9,4]]},"legend":{"title":null,"orient":"none","legendX":193,"legendY":-147,"direction":"horizontal"}},"strokeWidth":{"field":"m","type":"ordinal","scale":{"domain":["Full MFE","VD","Cumulant","Frozen MFE","MFE w/o Force"],"range":[1.5,2.5,3.2,3,3.2]},"legend":null}}}
]},
{"title":{"text":"(f)","anchor":"start","frame":"group","fontSize":19,"offset":-25,"dx":11,"dy":16,"baseline":"middle"},"width":276,"height":205,"data":{"name":"c2"},
"encoding":{"x":{"field":"x","type":"quantitative","scale":{"domain":[-4.5,1],"nice":false,"zero":false},"axis":{"values":[-4,-2,0],"format":"d","title":null}},"y":{"field":"y","type":"quantitative","scale":{"domain":[-0.05,1],"nice":false,"zero":false},"axis":{"values":[0,0.2,0.4,0.6,0.8,1.0],"format":".1f","title":null}}},
"layer":[
{"transform":[{"filter":"datum.m==='VD'"}],"mark":{"type":"area","color":"#c6f1fa","clip":true,"interpolate":"monotone"},"encoding":{"y2":{"datum":0}}},
{"transform":[{"filter":"datum.m!=='Cumulant'&&datum.m!=='MFE w/o Force'"}],"mark":{"type":"line","clip":true,"interpolate":"monotone"},"encoding":{"color":{"field":"m","type":"nominal","scale":{"domain":["Full MFE","VD","Cumulant","Frozen MFE","MFE w/o Force"],"range":["#000000","#55d6f8","#ffa04a","#f25c5c","#3b3bc6"]},"legend":{"title":null,"orient":"none","legendX":193,"legendY":-147,"direction":"horizontal"}},"strokeDash":{"field":"m","type":"nominal","scale":{"domain":["Full MFE","VD","Cumulant","Frozen MFE","MFE w/o Force"],"range":[[1,0],[1,0],[9,4],[3,4],[9,4]]},"legend":{"title":null,"orient":"none","legendX":193,"legendY":-147,"direction":"horizontal"}},"strokeWidth":{"field":"m","type":"ordinal","scale":{"domain":["Full MFE","VD","Cumulant","Frozen MFE","MFE w/o Force"],"range":[1.5,2.5,3.2,3,3.2]},"legend":null}}}
]},
{"title":{"text":"(j)","anchor":"start","frame":"group","fontSize":19,"offset":-25,"dx":15,"dy":21.5,"baseline":"middle"},"width":276,"height":207.7,"data":{"name":"c2"},
"encoding":{"x":{"field":"x","type":"quantitative","scale":{"domain":[-4.5,1],"nice":false,"zero":false},"axis":{"values":[-4,-2,0],"format":"d","title":null}},"y":{"field":"y","type":"quantitative","scale":{"domain":[-0.05,1],"nice":false,"zero":false},"axis":{"values":[0,0.2,0.4,0.6,0.8,1.0],"format":".1f","title":null}}},
"layer":[
{"transform":[{"filter":"datum.m==='VD'"}],"mark":{"type":"area","color":"#c6f1fa","clip":true,"interpolate":"monotone"},"encoding":{"y2":{"datum":0}}},
{"transform":[{"filter":"datum.m!=='Cumulant'&&datum.m!=='Frozen MFE'"}],"mark":{"type":"line","clip":true,"interpolate":"monotone"},"encoding":{"color":{"field":"m","type":"nominal","scale":{"domain":["Full MFE","VD","Cumulant","Frozen MFE","MFE w/o Force"],"range":["#000000","#55d6f8","#ffa04a","#f25c5c","#3b3bc6"]},"legend":{"title":null,"orient":"none","legendX":193,"legendY":-147,"direction":"horizontal"}},"strokeDash":{"field":"m","type":"nominal","scale":{"domain":["Full MFE","VD","Cumulant","Frozen MFE","MFE w/o Force"],"range":[[1,0],[1,0],[9,4],[3,4],[9,4]]},"legend":{"title":null,"orient":"none","legendX":193,"legendY":-147,"direction":"horizontal"}},"strokeWidth":{"field":"m","type":"ordinal","scale":{"domain":["Full MFE","VD","Cumulant","Frozen MFE","MFE w/o Force"],"range":[1.5,2.5,3.2,3,3.2]},"legend":null}}}
]}
]}
]},
{"title":{"text":"k=π","fontSize":38,"offset":12,"anchor":"middle","dx":13},"spacing":17.6,"hconcat":[
{"title":{"text":"T=0.2","fontSize":26,"offset":1,"anchor":"middle","dx":21},"spacing":65.2,"bounds":"flush","vconcat":[
{"title":{"text":"(c)","anchor":"start","frame":"group","fontSize":19,"offset":-25,"dx":16.5,"dy":18,"baseline":"middle"},"width":281,"height":210,"data":{"name":"c3"},
"encoding":{"x":{"field":"x","type":"quantitative","scale":{"domain":[-2,5],"nice":false,"zero":false},"axis":{"values":[-2,0,2,4],"format":"d","title":null}},"y":{"field":"y","type":"quantitative","scale":{"domain":[-0.05,1],"nice":false,"zero":false},"axis":{"values":[0,0.2,0.4,0.6,0.8,1.0],"format":".1f","title":null}}},
"layer":[
{"transform":[{"filter":"datum.m==='VD'"}],"mark":{"type":"area","color":"#c6f1fa","clip":true,"interpolate":"monotone"},"encoding":{"y2":{"datum":0}}},
{"transform":[{"filter":"datum.m!=='Frozen MFE'&&datum.m!=='MFE w/o Force'"}],"mark":{"type":"line","clip":true,"interpolate":"monotone"},"encoding":{"color":{"field":"m","type":"nominal","scale":{"domain":["Full MFE","VD","Cumulant","Frozen MFE","MFE w/o Force"],"range":["#000000","#55d6f8","#ffa04a","#f25c5c","#3b3bc6"]},"legend":{"title":null,"orient":"none","legendX":193,"legendY":-147,"direction":"horizontal"}},"strokeDash":{"field":"m","type":"nominal","scale":{"domain":["Full MFE","VD","Cumulant","Frozen MFE","MFE w/o Force"],"range":[[1,0],[1,0],[9,4],[3,4],[9,4]]},"legend":{"title":null,"orient":"none","legendX":193,"legendY":-147,"direction":"horizontal"}},"strokeWidth":{"field":"m","type":"ordinal","scale":{"domain":["Full MFE","VD","Cumulant","Frozen MFE","MFE w/o Force"],"range":[1.5,2.5,3.2,3,3.2]},"legend":null}}}
]},
{"title":{"text":"(g)","anchor":"start","frame":"group","fontSize":19,"offset":-25,"dx":16.5,"dy":15.3,"baseline":"middle"},"width":281,"height":209,"data":{"name":"c3"},
"encoding":{"x":{"field":"x","type":"quantitative","scale":{"domain":[-2,5],"nice":false,"zero":false},"axis":{"values":[-2,0,2,4],"format":"d","title":null}},"y":{"field":"y","type":"quantitative","scale":{"domain":[-0.05,1],"nice":false,"zero":false},"axis":{"values":[0,0.2,0.4,0.6,0.8,1.0],"format":".1f","title":null}}},
"layer":[
{"transform":[{"filter":"datum.m==='VD'"}],"mark":{"type":"area","color":"#c6f1fa","clip":true,"interpolate":"monotone"},"encoding":{"y2":{"datum":0}}},
{"transform":[{"filter":"datum.m!=='Cumulant'&&datum.m!=='MFE w/o Force'"}],"mark":{"type":"line","clip":true,"interpolate":"monotone"},"encoding":{"color":{"field":"m","type":"nominal","scale":{"domain":["Full MFE","VD","Cumulant","Frozen MFE","MFE w/o Force"],"range":["#000000","#55d6f8","#ffa04a","#f25c5c","#3b3bc6"]},"legend":{"title":null,"orient":"none","legendX":193,"legendY":-147,"direction":"horizontal"}},"strokeDash":{"field":"m","type":"nominal","scale":{"domain":["Full MFE","VD","Cumulant","Frozen MFE","MFE w/o Force"],"range":[[1,0],[1,0],[9,4],[3,4],[9,4]]},"legend":{"title":null,"orient":"none","legendX":193,"legendY":-147,"direction":"horizontal"}},"strokeWidth":{"field":"m","type":"ordinal","scale":{"domain":["Full MFE","VD","Cumulant","Frozen MFE","MFE w/o Force"],"range":[1.5,2.5,3.2,3,3.2]},"legend":null}}}
]},
{"title":{"text":"(k)","anchor":"start","frame":"group","fontSize":19,"offset":-25,"dx":15.5,"dy":17.3,"baseline":"middle"},"width":281,"height":206,"data":{"name":"c3"},
"encoding":{"x":{"field":"x","type":"quantitative","scale":{"domain":[-2,5],"nice":false,"zero":false},"axis":{"values":[-2,0,2,4],"format":"d","title":null}},"y":{"field":"y","type":"quantitative","scale":{"domain":[-0.05,1],"nice":false,"zero":false},"axis":{"values":[0,0.2,0.4,0.6,0.8,1.0],"format":".1f","title":null}}},
"layer":[
{"transform":[{"filter":"datum.m==='VD'"}],"mark":{"type":"area","color":"#c6f1fa","clip":true,"interpolate":"monotone"},"encoding":{"y2":{"datum":0}}},
{"transform":[{"filter":"datum.m!=='Cumulant'&&datum.m!=='Frozen MFE'"}],"mark":{"type":"line","clip":true,"interpolate":"monotone"},"encoding":{"color":{"field":"m","type":"nominal","scale":{"domain":["Full MFE","VD","Cumulant","Frozen MFE","MFE w/o Force"],"range":["#000000","#55d6f8","#ffa04a","#f25c5c","#3b3bc6"]},"legend":{"title":null,"orient":"none","legendX":193,"legendY":-147,"direction":"horizontal"}},"strokeDash":{"field":"m","type":"nominal","scale":{"domain":["Full MFE","VD","Cumulant","Frozen MFE","MFE w/o Force"],"range":[[1,0],[1,0],[9,4],[3,4],[9,4]]},"legend":{"title":null,"orient":"none","legendX":193,"legendY":-147,"direction":"horizontal"}},"strokeWidth":{"field":"m","type":"ordinal","scale":{"domain":["Full MFE","VD","Cumulant","Frozen MFE","MFE w/o Force"],"range":[1.5,2.5,3.2,3,3.2]},"legend":null}}}
]}
]},
{"title":{"text":"T=1.0","fontSize":26,"offset":1,"anchor":"middle","dx":9.5},"spacing":68.5,"bounds":"flush","vconcat":[
{"title":{"text":"(d)","anchor":"start","frame":"group","fontSize":19,"offset":-25,"dx":11.5,"dy":19.5,"baseline":"middle"},"width":275,"height":205,"data":{"name":"c4"},
"encoding":{"x":{"field":"x","type":"quantitative","scale":{"domain":[-2,5],"nice":false,"zero":false},"axis":{"values":[-2,0,2,4],"format":"d","title":null}},"y":{"field":"y","type":"quantitative","scale":{"domain":[-0.025,0.5],"nice":false,"zero":false},"axis":{"values":[0,0.1,0.2,0.3,0.4,0.5],"format":".1f","title":null}}},
"layer":[
{"transform":[{"filter":"datum.m==='VD'"}],"mark":{"type":"area","color":"#c6f1fa","clip":true,"interpolate":"monotone"},"encoding":{"y2":{"datum":0}}},
{"transform":[{"filter":"datum.m!=='Frozen MFE'&&datum.m!=='MFE w/o Force'"}],"mark":{"type":"line","clip":true,"interpolate":"monotone"},"encoding":{"color":{"field":"m","type":"nominal","scale":{"domain":["Full MFE","VD","Cumulant","Frozen MFE","MFE w/o Force"],"range":["#000000","#55d6f8","#ffa04a","#f25c5c","#3b3bc6"]},"legend":{"title":null,"orient":"none","legendX":193,"legendY":-147,"direction":"horizontal"}},"strokeDash":{"field":"m","type":"nominal","scale":{"domain":["Full MFE","VD","Cumulant","Frozen MFE","MFE w/o Force"],"range":[[1,0],[1,0],[9,4],[3,4],[9,4]]},"legend":{"title":null,"orient":"none","legendX":193,"legendY":-147,"direction":"horizontal"}},"strokeWidth":{"field":"m","type":"ordinal","scale":{"domain":["Full MFE","VD","Cumulant","Frozen MFE","MFE w/o Force"],"range":[1.5,2.5,3.2,3,3.2]},"legend":null}}}
]},
{"title":{"text":"(h)","anchor":"start","frame":"group","fontSize":19,"offset":-25,"dx":11.5,"dy":19,"baseline":"middle"},"width":275,"height":209,"data":{"name":"c4"},
"encoding":{"x":{"field":"x","type":"quantitative","scale":{"domain":[-2,5],"nice":false,"zero":false},"axis":{"values":[-2,0,2,4],"format":"d","title":null}},"y":{"field":"y","type":"quantitative","scale":{"domain":[-0.025,0.5],"nice":false,"zero":false},"axis":{"values":[0,0.1,0.2,0.3,0.4,0.5],"format":".1f","title":null}}},
"layer":[
{"transform":[{"filter":"datum.m==='VD'"}],"mark":{"type":"area","color":"#c6f1fa","clip":true,"interpolate":"monotone"},"encoding":{"y2":{"datum":0}}},
{"transform":[{"filter":"datum.m!=='Cumulant'&&datum.m!=='MFE w/o Force'"}],"mark":{"type":"line","clip":true,"interpolate":"monotone"},"encoding":{"color":{"field":"m","type":"nominal","scale":{"domain":["Full MFE","VD","Cumulant","Frozen MFE","MFE w/o Force"],"range":["#000000","#55d6f8","#ffa04a","#f25c5c","#3b3bc6"]},"legend":{"title":null,"orient":"none","legendX":193,"legendY":-147,"direction":"horizontal"}},"strokeDash":{"field":"m","type":"nominal","scale":{"domain":["Full MFE","VD","Cumulant","Frozen MFE","MFE w/o Force"],"range":[[1,0],[1,0],[9,4],[3,4],[9,4]]},"legend":{"title":null,"orient":"none","legendX":193,"legendY":-147,"direction":"horizontal"}},"strokeWidth":{"field":"m","type":"ordinal","scale":{"domain":["Full MFE","VD","Cumulant","Frozen MFE","MFE w/o Force"],"range":[1.5,2.5,3.2,3,3.2]},"legend":null}}}
]},
{"title":{"text":"(l)","anchor":"start","frame":"group","fontSize":19,"offset":-25,"dx":14.5,"dy":18.7,"baseline":"middle"},"width":275,"height":206,"data":{"name":"c4"},
"encoding":{"x":{"field":"x","type":"quantitative","scale":{"domain":[-2,5],"nice":false,"zero":false},"axis":{"values":[-2,0,2,4],"format":"d","title":null}},"y":{"field":"y","type":"quantitative","scale":{"domain":[-0.025,0.5],"nice":false,"zero":false},"axis":{"values":[0,0.1,0.2,0.3,0.4,0.5],"format":".1f","title":null}}},
"layer":[
{"transform":[{"filter":"datum.m==='VD'"}],"mark":{"type":"area","color":"#c6f1fa","clip":true,"interpolate":"monotone"},"encoding":{"y2":{"datum":0}}},
{"transform":[{"filter":"datum.m!=='Cumulant'&&datum.m!=='Frozen MFE'"}],"mark":{"type":"line","clip":true,"interpolate":"monotone"},"encoding":{"color":{"field":"m","type":"nominal","scale":{"domain":["Full MFE","VD","Cumulant","Frozen MFE","MFE w/o Force"],"range":["#000000","#55d6f8","#ffa04a","#f25c5c","#3b3bc6"]},"legend":{"title":null,"orient":"none","legendX":193,"legendY":-147,"direction":"horizontal"}},"strokeDash":{"field":"m","type":"nominal","scale":{"domain":["Full MFE","VD","Cumulant","Frozen MFE","MFE w/o Force"],"range":[[1,0],[1,0],[9,4],[3,4],[9,4]]},"legend":{"title":null,"orient":"none","legendX":193,"legendY":-147,"direction":"horizontal"}},"strokeWidth":{"field":"m","type":"ordinal","scale":{"domain":["Full MFE","VD","Cumulant","Frozen MFE","MFE w/o Force"],"range":[1.5,2.5,3.2,3,3.2]},"legend":null}}}
]}
]}
]}
],
"config":{
"font":"Liberation Sans",
"view":{"stroke":"#333","strokeWidth":1},
"axis":{"domain":false,"grid":false,"ticks":true,"tickSize":3.5,"tickColor":"#000","tickWidth":1,"labelFont":"DejaVu Sans","labelFontSize":14,"labelColor":"#000","labelPadding":2.5},
"legend":{"symbolType":"stroke","symbolSize":1296,"symbolStrokeWidth":3,"labelFontSize":26,"labelFont":"Liberation Sans","labelColor":"#000","labelOffset":10,"columnPadding":14,"padding":0,"labelLimit":400},
"title":{"font":"Liberation Sans","fontWeight":"normal","color":"#000"}
}
}
